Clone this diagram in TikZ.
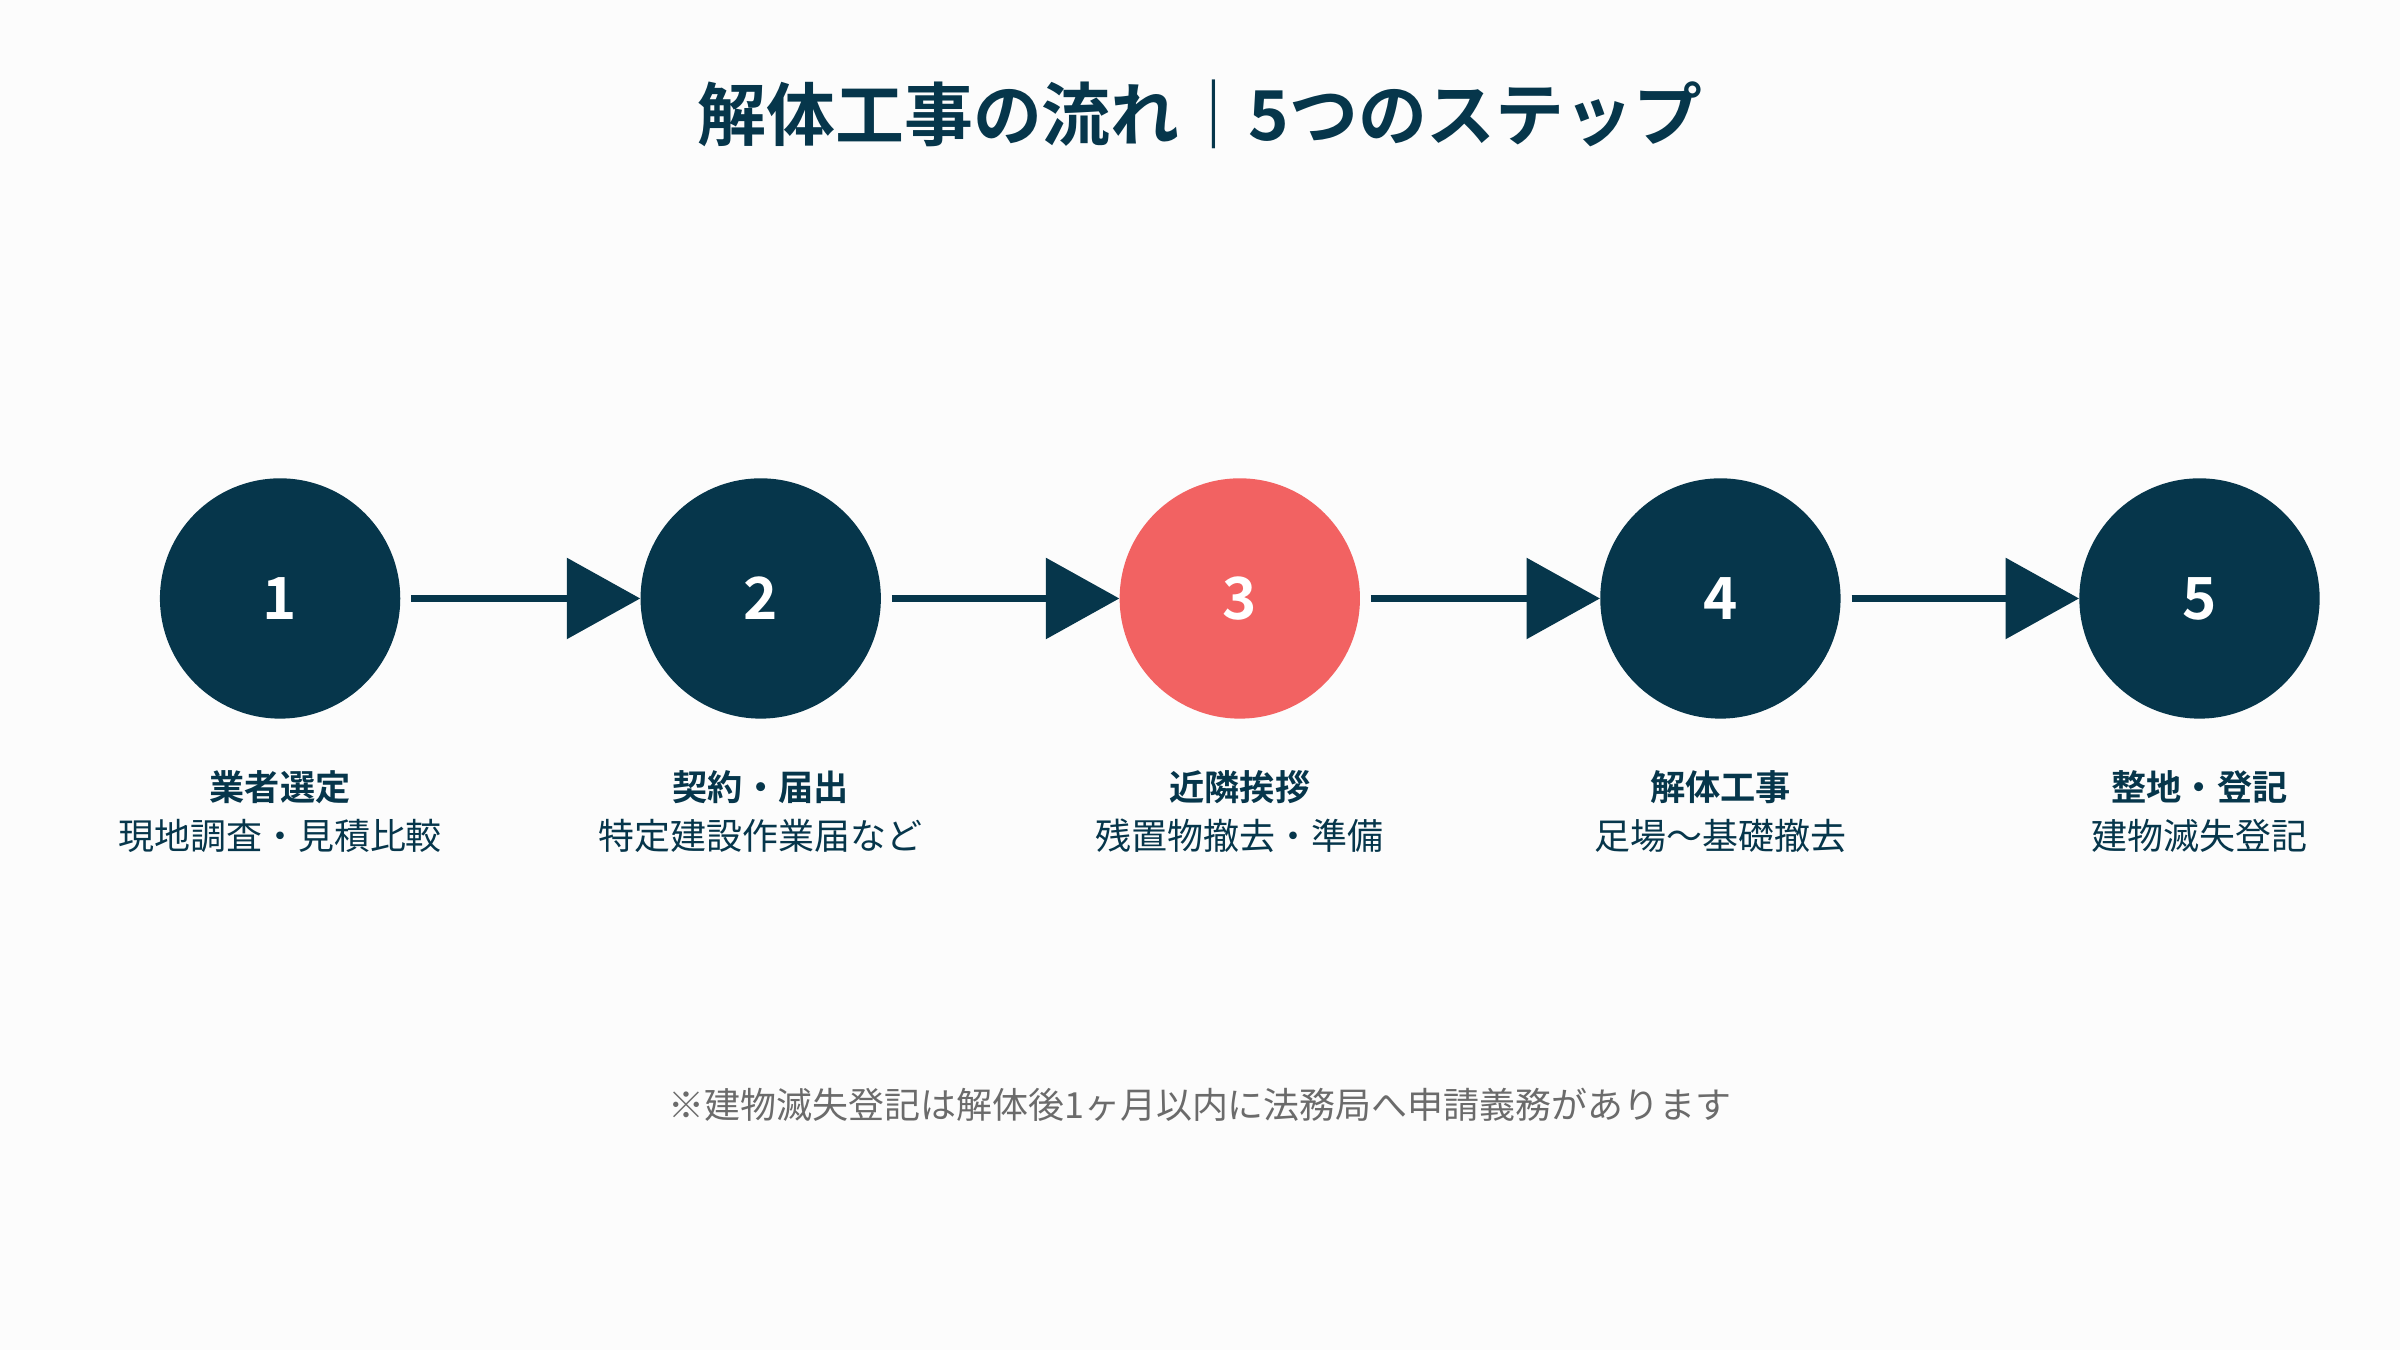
\documentclass[tikz,border=0pt]{standalone}
\usepackage{fontspec}
\setmainfont{Noto Sans CJK JP}[BoldFont={Noto Sans CJK JP Bold}]
\usetikzlibrary{arrows.meta}
\definecolor{navy}{HTML}{06364B}
\definecolor{coral}{HTML}{F26262}
\definecolor{bg}{HTML}{FCFCFC}
\definecolor{note}{HTML}{6B6B6B}
\begin{document}
\begin{tikzpicture}[x=1pt,y=-1pt,
 stepc/.style={circle,fill=navy,minimum size=157pt,inner sep=0pt,text=white,font=\fontsize{38}{38}\selectfont\bfseries},
 ttl/.style={text=navy,font=\fontsize{23}{26}\selectfont\bfseries},
 sub/.style={text=navy,font=\fontsize{23.5}{26}\selectfont},
 arr/.style={navy,line width=5pt,shorten <=7pt,-{Triangle[length=48pt,width=52pt]}}]
\fill[bg] (0,0) rectangle (1568,882);
\node[text=navy,font=\fontsize{45}{48}\selectfont\bfseries] (title) at (784,75) {解体工事の流れ｜5つのステップ};
\node[stepc] (c1) at (183,391) {1};
\node[stepc] (c2) at (497,391) {2};
\node[stepc,fill=coral] (c3) at (810,391) {3};
\node[stepc] (c4) at (1124,391) {4};
\node[stepc] (c5) at (1437,391) {5};
\foreach \a/\b in {c1/c2,c2/c3,c3/c4,c4/c5} \draw[arr] (\a) -- (\b);
\node[ttl] (t1) at (183,514) {業者選定};
\node[ttl] (t2) at (497,514) {契約・届出};
\node[ttl] (t3) at (810,514) {近隣挨拶};
\node[ttl] (t4) at (1124,514) {解体工事};
\node[ttl] (t5) at (1437,514) {整地・登記};
\node[sub] (s1) at (183,546) {現地調査・見積比較};
\node[sub] (s2) at (497,546) {特定建設作業届など};
\node[sub] (s3) at (810,546) {残置物撤去・準備};
\node[sub] (s4) at (1124,546) {足場〜基礎撤去};
\node[sub] (s5) at (1437,546) {建物滅失登記};
\node[text=note,font=\fontsize{23.5}{26}\selectfont] (fn) at (784,722) {※建物滅失登記は解体後1ヶ月以内に法務局へ申請義務があります};
\end{tikzpicture}
\end{document}
